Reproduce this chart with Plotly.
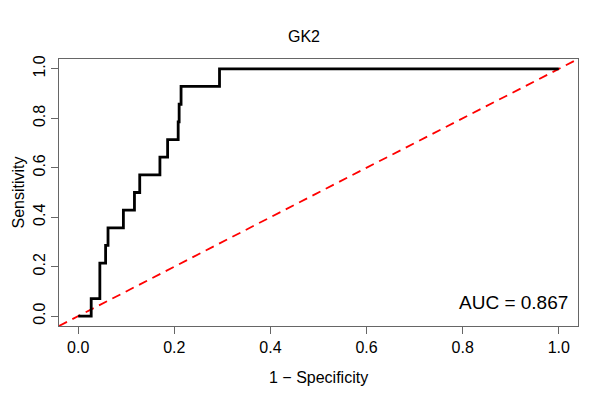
import plotly.graph_objects as go

# ROC curve for GK2
fpr = [0.0, 0.027, 0.045, 0.057, 0.062, 0.094, 0.117, 0.128, 0.170,
       0.186, 0.208, 0.210, 0.214, 0.294, 1.0]
tpr = [0.0, 0.071, 0.214, 0.286, 0.357, 0.429, 0.500, 0.571, 0.643,
       0.714, 0.786, 0.857, 0.929, 1.0, 1.0]
chance = [-0.04, 1.04]
ticks = [0.0, 0.2, 0.4, 0.6, 0.8, 1.0]
tick_text = ["0.0", "0.2", "0.4", "0.6", "0.8", "1.0"]
auc_label = "AUC = 0.867"
title = "GK2"

font = "Liberation Sans, Arial, sans-serif"

# the page body has an 8px margin, so the figure is 8px smaller each way
W, H = 592, 392

fig = go.Figure()
fig.add_trace(go.Scatter(
    x=chance, y=chance, mode="lines",
    line=dict(color="#ff0000", width=1.8, dash="9px,6px"),
    hoverinfo="skip", showlegend=False))
fig.add_trace(go.Scatter(
    x=fpr, y=tpr, mode="lines",
    line=dict(color="black", width=2.8, shape="hv"),
    showlegend=False))

fig.add_annotation(
    x=0.906, y=0.057, xref="x", yref="y", text=auc_label,
    showarrow=False, font=dict(family=font, size=19, color="black"),
    xanchor="center", yanchor="middle")

# axis titles placed by hand, like R's mtext lines
fig.add_annotation(
    x=0.5, y=0, xref="paper", yref="paper", yshift=-51,
    text="1 \u2212 Specificity", showarrow=False,
    font=dict(family=font, size=16, color="black"),
    xanchor="center", yanchor="middle")
fig.add_annotation(
    x=0, y=0.5, xref="paper", yref="paper", xshift=-41,
    text="Sensitivity", showarrow=False, textangle=-90,
    font=dict(family=font, size=16, color="black"),
    xanchor="center", yanchor="middle")

axis_common = dict(
    range=[-0.04, 1.04], tickvals=ticks, ticktext=tick_text,
    showgrid=False, zeroline=False, showline=True, mirror=True,
    linecolor="#666666", linewidth=1, automargin=False,
    ticks="outside", ticklen=7, tickcolor="#666666",
    tickfont=dict(family=font, size=16, color="black"))

fig.update_layout(
    width=W, height=H,
    margin=dict(l=51, r=22, t=51, b=74),
    paper_bgcolor="white", plot_bgcolor="white",
    title=dict(text=title, x=0.5, xanchor="center",
               y=1 - 28 / H, yref="container", yanchor="middle",
               font=dict(family=font, size=16, color="black")),
    xaxis=axis_common,
    yaxis=dict(axis_common, tickangle=-90),
)

fig.write_html("out.html")
